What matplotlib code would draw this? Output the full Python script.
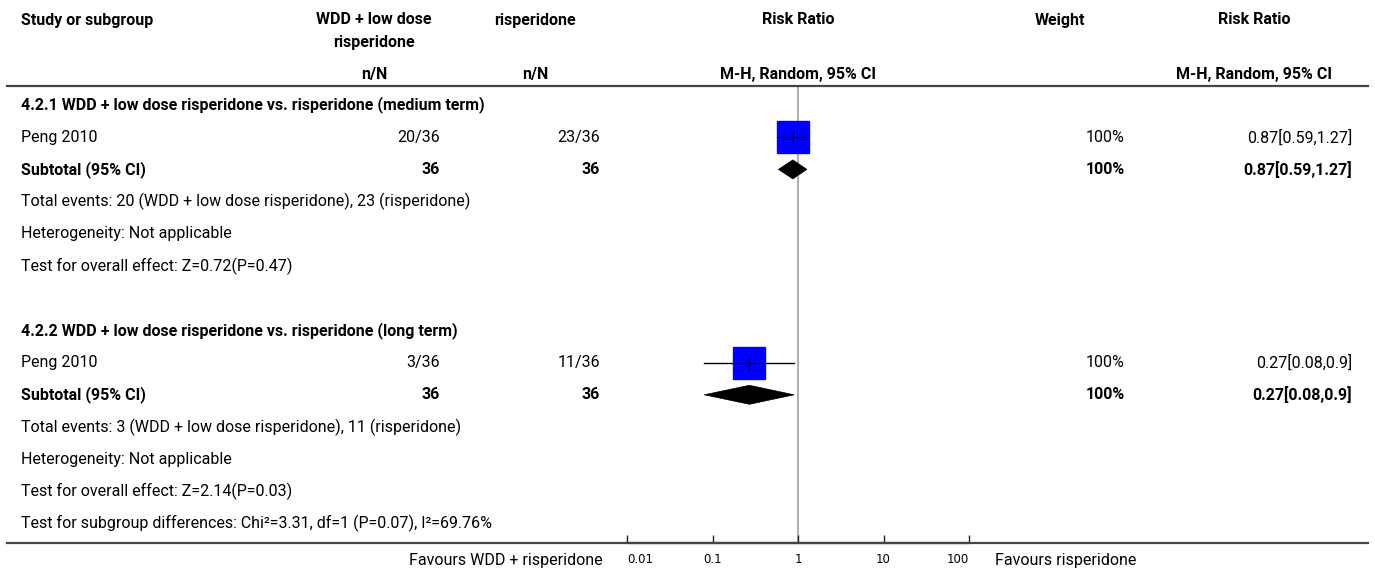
import matplotlib
matplotlib.use("Agg")
import matplotlib.pyplot as plt
from matplotlib.patches import Polygon
from matplotlib.lines import Line2D

plt.rcParams['font.family'] = ['Roboto', 'DejaVu Sans']

W, H = 1375, 575

# data
subgroups = ["4.2.1 WDD + low dose risperidone vs. risperidone (medium term)",
             "4.2.2 WDD + low dose risperidone vs. risperidone (long term)"]
study_names = ["Peng 2010", "Peng 2010"]
events_exp = ["20/36", "3/36"]
events_ctl = ["23/36", "11/36"]
n_exp = [36, 36]
n_ctl = [36, 36]
rr = [0.87, 0.27]
rr_lo = [0.59, 0.08]
rr_hi = [1.27, 0.9]
weights = ["100%", "100%"]
total_events = ["Total events: 20 (WDD + low dose risperidone), 23 (risperidone)",
                "Total events: 3 (WDD + low dose risperidone), 11 (risperidone)"]
heterogeneity = ["Heterogeneity: Not applicable", "Heterogeneity: Not applicable"]
overall = ["Test for overall effect: Z=0.72(P=0.47)",
           "Test for overall effect: Z=2.14(P=0.03)"]
subgroup_diff = "Test for subgroup differences: Chi\u00b2=3.31, df=1 (P=0.07), I\u00b2=69.76%"
xticks = [0.01, 0.1, 1, 10, 100]
xtick_labels = ["0.01", "0.1", "1", "10", "100"]

FS = 11.5


def fx(x):
    return x / W


def fy(y):
    return 1 - y / H


fig = plt.figure(figsize=(13.75, 5.75), dpi=100)


def txt(x, y, s, ha="left", bold=False, size=FS):
    fig.text(fx(x), fy(y), s, ha=ha, va="center", fontsize=size,
             fontweight="bold" if bold else "normal", color="black")


# header
txt(21, 20, "Study or subgroup", bold=True)
txt(374, 20, "WDD + low dose", ha="center", bold=True)
txt(374, 43, "risperidone", ha="center", bold=True)
txt(535, 20, "risperidone", ha="center", bold=True)
txt(798, 20, "Risk Ratio", ha="center", bold=True)
txt(1060, 20, "Weight", ha="center", bold=True)
txt(1254, 20, "Risk Ratio", ha="center", bold=True)
txt(374, 75, "n/N", ha="center", bold=True)
txt(535, 75, "n/N", ha="center", bold=True)
txt(798, 75, "M-H, Random, 95% CI", ha="center", bold=True)
txt(1254, 75, "M-H, Random, 95% CI", ha="center", bold=True)

top_y, axis_y = 86, 543
for yy in (top_y, axis_y):
    fig.add_artist(Line2D([fx(7), fx(1368)], [fy(yy), fy(yy)],
                          color="#444444", lw=1.6, transform=fig.transFigure))

# forest axes, y in pixel rows
x0, x1 = 627, 969
ax = fig.add_axes([fx(x0), fy(axis_y), (x1 - x0) / W, (axis_y - top_y) / H])
ax.set_xscale("log")
ax.set_xlim(0.01, 100)
ax.set_ylim(axis_y, top_y)
for s in ("top", "left", "right"):
    ax.spines[s].set_visible(False)
ax.spines["bottom"].set_linewidth(1.6)
ax.spines["bottom"].set_color("#222222")
ax.set_yticks([])
ax.set_xticks(xticks)
ax.set_xticklabels(xtick_labels, fontsize=8.5, family="DejaVu Sans")
labs = ax.get_xticklabels()
labs[0].set_ha("left")
labs[-1].set_ha("right")
ax.minorticks_off()
ax.tick_params(axis="x", direction="in", length=6, width=1, pad=7, color="#222222")
ax.patch.set_alpha(0)
ax.axvline(1, color="#aaaaaa", lw=1.3, zorder=1)

row0, step = 105, 32.2


def row_y(i):
    return row0 + step * i


for g in range(2):
    base = 7 * g
    txt(21, row_y(base), subgroups[g], bold=True)
    ys = row_y(base + 1)
    txt(21, ys, study_names[g])
    txt(440, ys, events_exp[g], ha="right")
    txt(600, ys, events_ctl[g], ha="right")
    txt(1125, ys, weights[g], ha="right")
    txt(1352, ys, "%g[%g,%g]" % (rr[g], rr_lo[g], rr_hi[g]), ha="right")
    ax.plot([rr[g]], [ys], marker="s", ms=22.5, color="blue", mec="blue", zorder=2)
    ax.plot([rr_lo[g], rr_hi[g]], [ys, ys], color="black", lw=1, zorder=3)
    ax.plot([rr[g]], [ys], marker="|", ms=10, color="black", mew=1, zorder=3)

    yt = row_y(base + 2)
    txt(21, yt, "Subtotal (95% CI)", bold=True)
    txt(440, yt, str(n_exp[g]), ha="right", bold=True)
    txt(600, yt, str(n_ctl[g]), ha="right", bold=True)
    txt(1125, yt, weights[g], ha="right", bold=True)
    txt(1352, yt, "%g[%g,%g]" % (rr[g], rr_lo[g], rr_hi[g]), ha="right", bold=True)
    h = 9.5
    ax.add_patch(Polygon([(rr_lo[g], yt), (rr[g], yt - h), (rr_hi[g], yt), (rr[g], yt + h)],
                         closed=True, facecolor="black", edgecolor="black", lw=0.5, zorder=3))

    txt(21, row_y(base + 3), total_events[g])
    txt(21, row_y(base + 4), heterogeneity[g])
    txt(21, row_y(base + 5), overall[g])

txt(21, row_y(13), subgroup_diff)

txt(603, 560, "Favours WDD + risperidone", ha="right")
txt(995, 560, "Favours risperidone")

fig.savefig("out.png", dpi=100)
